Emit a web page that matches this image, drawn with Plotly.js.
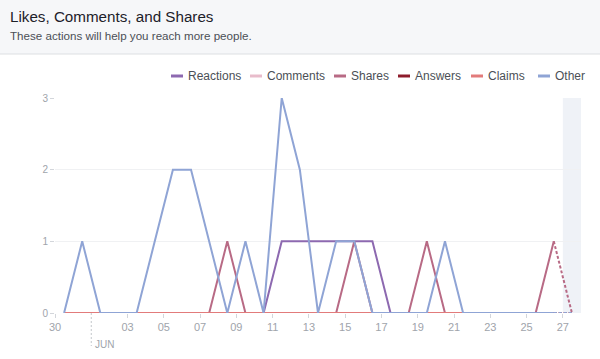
<!DOCTYPE html>
<html>
<head>
<meta charset="utf-8">
<script src="https://cdn.plot.ly/plotly-3.0.1.min.js"></script>
<style>
html,body{margin:0;padding:0;background:#fff;}
#chart{width:600px;height:359px;}
</style>
</head>
<body>
<div id="chart"></div>
<script>
// ---- data ----
var days = ['2018-05-30','2018-05-31','2018-06-01','2018-06-02','2018-06-03','2018-06-04','2018-06-05','2018-06-06','2018-06-07','2018-06-08','2018-06-09','2018-06-10','2018-06-11','2018-06-12','2018-06-13','2018-06-14','2018-06-15','2018-06-16','2018-06-17','2018-06-18','2018-06-19','2018-06-20','2018-06-21','2018-06-22','2018-06-23','2018-06-24','2018-06-25','2018-06-26','2018-06-27'];
var reactions = [0,0,0,0,0,0,0,0,0,0,0,0,1,1,1,1,1,1,0,0,0,0,0,0,0,0,0,0,0];
var comments  = [0,0,0,0,0,0,0,0,0,0,0,0,0,0,0,0,0,0,0,0,0,0,0,0,0,0,0,0,0];
var shares    = [0,0,0,0,0,0,0,0,0,1,0,0,0,0,0,0,1,0,0,0,1,0,0,0,0,0,0,1,0];
var answers   = [0,0,0,0,0,0,0,0,0,0,0,0,0,0,0,0,0,0,0,0,0,0,0,0,0,0,0,0,0];
var claims    = [0,0,0,0,0,0,0,0,0,0,0,0,0,0,0,0,0,0,0,0,0,0,0,0,0,0,0,0,0];
var other     = [0,1,0,0,0,1,2,2,1,0,1,0,3,2,0,1,1,0,0,0,0,1,0,0,0,0,0,0,0];

var seriesNames = ['Reactions','Comments','Shares','Answers','Claims','Other'];
var seriesColors = ['#8d69b0','#e8bccb','#b86a85','#8e1d2c','#e27b7b','#8fa4d5'];
var seriesValues = [reactions, comments, shares, answers, claims, other];

var tickDates = ['2018-05-30','2018-06-03','2018-06-05','2018-06-07','2018-06-09','2018-06-11','2018-06-13','2018-06-15','2018-06-17','2018-06-19','2018-06-21','2018-06-23','2018-06-25','2018-06-27'];
var tickLabels = ['30','03','05','07','09','11','13','15','17','19','21','23','25','27'];
var monthDate = '2018-06-01';
var monthLabel = 'JUN';
var partialDay = '2018-06-27';

// ---- layout geometry (pixels) ----
var W = 600, H = 359;
var mL = 55, mR = 19, mT = 98, mB = 46;
var plotW = W - mL - mR, plotH = H - mT - mB;
function px(x){ return (x - mL) / plotW; }
function py(y){ return (H - mB - y) / plotH; }

var FONT = 'Liberation Sans, Arial, Helvetica, sans-serif';
var xs = days.map(function(d){ return d + ' 12:00'; });
var nSolid = days.length - 1; // last day incomplete -> dashed

var traces = [];
seriesValues.forEach(function(vals, i){
  traces.push({
    type:'scatter', mode:'lines', name:seriesNames[i],
    x: xs.slice(0, nSolid), y: vals.slice(0, nSolid),
    line:{color:seriesColors[i], width:2},
    cliponaxis:false, showlegend:false, hoverinfo:'skip'
  });
  traces.push({
    type:'scatter', mode:'lines', name:seriesNames[i],
    x: xs.slice(nSolid-1), y: vals.slice(nSolid-1),
    line:{color:seriesColors[i], width:2, dash:'3px,2px'},
    cliponaxis:false, showlegend:false, hoverinfo:'skip'
  });
});

var shapes = [
  // header background
  {type:'rect', xref:'paper', yref:'paper', x0:px(0), x1:px(W), y0:py(54), y1:py(0),
   fillcolor:'#f6f7f9', line:{width:0}, layer:'below'},
  {type:'line', xref:'paper', yref:'paper', x0:px(0), x1:px(W), y0:py(54), y1:py(54),
   line:{color:'#dddfe2', width:1}},
  // partial-day shading
  {type:'rect', xref:'x', yref:'paper', x0:partialDay, x1:'2018-06-28', y0:0, y1:1,
   fillcolor:'#eff2f7', line:{width:0}, layer:'below'},
  // month marker
  {type:'line', xref:'x', yref:'paper', x0:monthDate, x1:monthDate, y0:0, y1:py(346),
   line:{color:'#c4c7cc', width:1, dash:'2px,2px'}}
];

var annotations = [
  {xref:'paper', yref:'paper', x:px(8), y:py(36), xanchor:'left', yanchor:'middle',
   text:'These actions will help you reach more people.', showarrow:false,
   font:{family:FONT, size:11.6, color:'#4b4f56'}},
  {xref:'x', yref:'paper', x:monthDate, y:py(344), xanchor:'left', yanchor:'middle', xshift:2,
   text:monthLabel, showarrow:false, font:{family:FONT, size:10, color:'#a0a4ab'}}
];

// custom legend
var legendLineX = [171, 250, 334, 398, 471, 538];
var legendY = 76;
seriesNames.forEach(function(n, i){
  shapes.push({type:'line', xref:'paper', yref:'paper',
    x0:px(legendLineX[i]), x1:px(legendLineX[i]+12), y0:py(legendY), y1:py(legendY),
    line:{color:seriesColors[i], width:3}});
  annotations.push({xref:'paper', yref:'paper', x:px(legendLineX[i]+15), y:py(legendY+0.5),
    xanchor:'left', yanchor:'middle', text:n, showarrow:false,
    font:{family:FONT, size:12, color:'#4b4f56'}});
});

var layout = {
  width:W, height:H,
  margin:{l:mL, r:mR, t:mT, b:mB},
  paper_bgcolor:'#ffffff', plot_bgcolor:'#ffffff',
  font:{family:FONT, color:'#90949c'},
  title:{text:'Likes, Comments, and Shares', x:10/W, xref:'container', xanchor:'left',
         y:1-17/H, yref:'container', yanchor:'middle',
         font:{family:FONT, size:15.2, color:'#1d2129'}},
  showlegend:false,
  xaxis:{type:'date', range:['2018-05-30','2018-06-28'], tickmode:'array',
         tickvals:tickDates, ticktext:tickLabels, ticks:'outside', ticklen:4,
         tickcolor:'#d3d6db', tickfont:{size:11, color:'#a0a4ab'},
         showgrid:false, zeroline:false, showline:false, fixedrange:true},
  yaxis:{range:[0,3], tickvals:[0,1,2,3], ticks:'outside', ticklen:4, tickcolor:'#d3d6db',
         tickfont:{size:10, color:'#a0a4ab'}, showgrid:true, gridcolor:'#f0f1f3',
         zeroline:false, showline:false, fixedrange:true},
  shapes:shapes, annotations:annotations
};

Plotly.newPlot('chart', traces, layout, {displayModeBar:false, staticPlot:true});
</script>
</body>
</html>
